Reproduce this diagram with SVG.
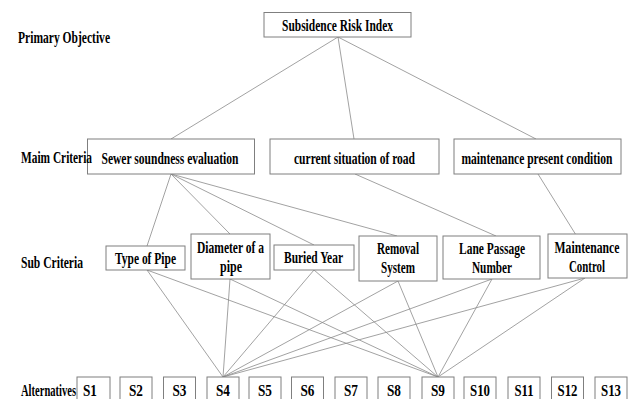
<svg xmlns="http://www.w3.org/2000/svg" width="630" height="399" viewBox="0 0 630 399">
<style>
.b{fill:#fff;stroke:#7f7f7f;stroke-width:1}
.t{font-family:"Liberation Serif","Times New Roman",serif;font-weight:bold;font-size:17px;fill:#000}
.m{text-anchor:middle}
.c line{stroke:#8a8a8a;stroke-width:0.8}
</style>
<rect width="630" height="399" fill="#fff"/>
<g class="c" id="connectors">
<line x1="338" y1="37" x2="171" y2="139"/>
<line x1="338" y1="37" x2="354" y2="139"/>
<line x1="338" y1="37" x2="536" y2="139"/>
<line x1="171" y1="174" x2="147" y2="246"/>
<line x1="171" y1="174" x2="230" y2="234"/>
<line x1="171" y1="174" x2="314" y2="245"/>
<line x1="171" y1="174" x2="397" y2="236"/>
<line x1="355" y1="174" x2="496" y2="236"/>
<line x1="538" y1="174" x2="576" y2="235"/>
<line x1="147" y1="270" x2="223" y2="377"/>
<line x1="230" y1="279" x2="223" y2="377"/>
<line x1="314" y1="270" x2="223" y2="377"/>
<line x1="398" y1="281" x2="223" y2="377"/>
<line x1="492" y1="279" x2="223" y2="377"/>
<line x1="585" y1="278" x2="223" y2="377"/>
<line x1="147" y1="270" x2="438" y2="377"/>
<line x1="230" y1="279" x2="438" y2="377"/>
<line x1="314" y1="270" x2="438" y2="377"/>
<line x1="398" y1="281" x2="438" y2="377"/>
<line x1="492" y1="279" x2="438" y2="377"/>
<line x1="585" y1="278" x2="438" y2="377"/>
</g>
<g id="goal"><rect class="b" x="264" y="12.5" width="147" height="24.5"/><text class="t m" x="337.5" y="31" textLength="111" lengthAdjust="spacingAndGlyphs">Subsidence Risk Index</text></g>
<g id="c1"><rect class="b" x="87.5" y="139" width="167" height="35"/><text class="t m" x="170" y="163.5" textLength="137" lengthAdjust="spacingAndGlyphs">Sewer soundness evaluation</text></g>
<g id="c2"><rect class="b" x="270" y="139" width="169" height="35"/><text class="t m" x="354.5" y="163.5" textLength="121" lengthAdjust="spacingAndGlyphs">current situation of road</text></g>
<g id="c3"><rect class="b" x="454" y="139" width="167" height="35"/><text class="t m" x="537" y="163.5" textLength="151" lengthAdjust="spacingAndGlyphs">maintenance present condition</text></g>
<g id="s1"><rect class="b" x="106" y="246" width="79" height="24"/><text class="t m" x="145.5" y="264" textLength="61" lengthAdjust="spacingAndGlyphs">Type of Pipe</text></g>
<g id="s2"><rect class="b" x="191" y="234" width="79" height="45"/><text class="t m" x="230.5" y="253" textLength="67" lengthAdjust="spacingAndGlyphs">Diameter of a</text><text class="t m" x="231" y="272" textLength="22" lengthAdjust="spacingAndGlyphs">pipe</text></g>
<g id="s3"><rect class="b" x="274" y="245" width="80" height="25"/><text class="t m" x="313.5" y="263" textLength="59" lengthAdjust="spacingAndGlyphs">Buried Year</text></g>
<g id="s4"><rect class="b" x="359" y="236" width="78" height="45"/><text class="t m" x="398" y="254" textLength="42" lengthAdjust="spacingAndGlyphs">Removal</text><text class="t m" x="398" y="273" textLength="34" lengthAdjust="spacingAndGlyphs">System</text></g>
<g id="s5"><rect class="b" x="443" y="236" width="97" height="43"/><text class="t m" x="492" y="254" textLength="66" lengthAdjust="spacingAndGlyphs">Lane Passage</text><text class="t m" x="492" y="273" textLength="40" lengthAdjust="spacingAndGlyphs">Number</text></g>
<g id="s6"><rect class="b" x="548" y="234" width="79" height="44"/><text class="t m" x="587" y="253" textLength="65" lengthAdjust="spacingAndGlyphs">Maintenance</text><text class="t m" x="587" y="272" textLength="36" lengthAdjust="spacingAndGlyphs">Control</text></g>
<g id="a1"><rect class="b" x="77" y="377" width="33" height="30"/><text class="t m" x="90" y="396" textLength="14" lengthAdjust="spacingAndGlyphs">S1</text></g>
<g id="a2"><rect class="b" x="120" y="377" width="32" height="30"/><text class="t m" x="136" y="396" textLength="14" lengthAdjust="spacingAndGlyphs">S2</text></g>
<g id="a3"><rect class="b" x="163.5" y="377" width="32" height="30"/><text class="t m" x="179.5" y="396" textLength="14" lengthAdjust="spacingAndGlyphs">S3</text></g>
<g id="a4"><rect class="b" x="207" y="377" width="32" height="30"/><text class="t m" x="223" y="396" textLength="14" lengthAdjust="spacingAndGlyphs">S4</text></g>
<g id="a5"><rect class="b" x="249" y="377" width="32" height="30"/><text class="t m" x="265" y="396" textLength="14" lengthAdjust="spacingAndGlyphs">S5</text></g>
<g id="a6"><rect class="b" x="291.5" y="377" width="32" height="30"/><text class="t m" x="307.5" y="396" textLength="14" lengthAdjust="spacingAndGlyphs">S6</text></g>
<g id="a7"><rect class="b" x="335" y="377" width="32" height="30"/><text class="t m" x="351" y="396" textLength="14" lengthAdjust="spacingAndGlyphs">S7</text></g>
<g id="a8"><rect class="b" x="378" y="377" width="32" height="30"/><text class="t m" x="394" y="396" textLength="14" lengthAdjust="spacingAndGlyphs">S8</text></g>
<g id="a9"><rect class="b" x="422" y="377" width="32" height="30"/><text class="t m" x="438" y="396" textLength="14" lengthAdjust="spacingAndGlyphs">S9</text></g>
<g id="a10"><rect class="b" x="464" y="377" width="32" height="30"/><text class="t m" x="480" y="396" textLength="20" lengthAdjust="spacingAndGlyphs">S10</text></g>
<g id="a11"><rect class="b" x="508" y="377" width="32" height="30"/><text class="t m" x="524" y="396" textLength="19" lengthAdjust="spacingAndGlyphs">S11</text></g>
<g id="a12"><rect class="b" x="551.5" y="377" width="32" height="30"/><text class="t m" x="567.5" y="396" textLength="20" lengthAdjust="spacingAndGlyphs">S12</text></g>
<g id="a13"><rect class="b" x="595" y="377" width="32" height="30"/><text class="t m" x="611" y="396" textLength="20" lengthAdjust="spacingAndGlyphs">S13</text></g>
<g id="labels">
<text class="t" x="18" y="43" textLength="92" lengthAdjust="spacingAndGlyphs">Primary Objective</text>
<text class="t" x="21" y="163" textLength="71" lengthAdjust="spacingAndGlyphs">Maim Criteria</text>
<text class="t" x="21" y="268" textLength="62" lengthAdjust="spacingAndGlyphs">Sub Criteria</text>
<text class="t" x="21" y="396" textLength="55" lengthAdjust="spacingAndGlyphs">Alternatives</text>
</g>
</svg>
